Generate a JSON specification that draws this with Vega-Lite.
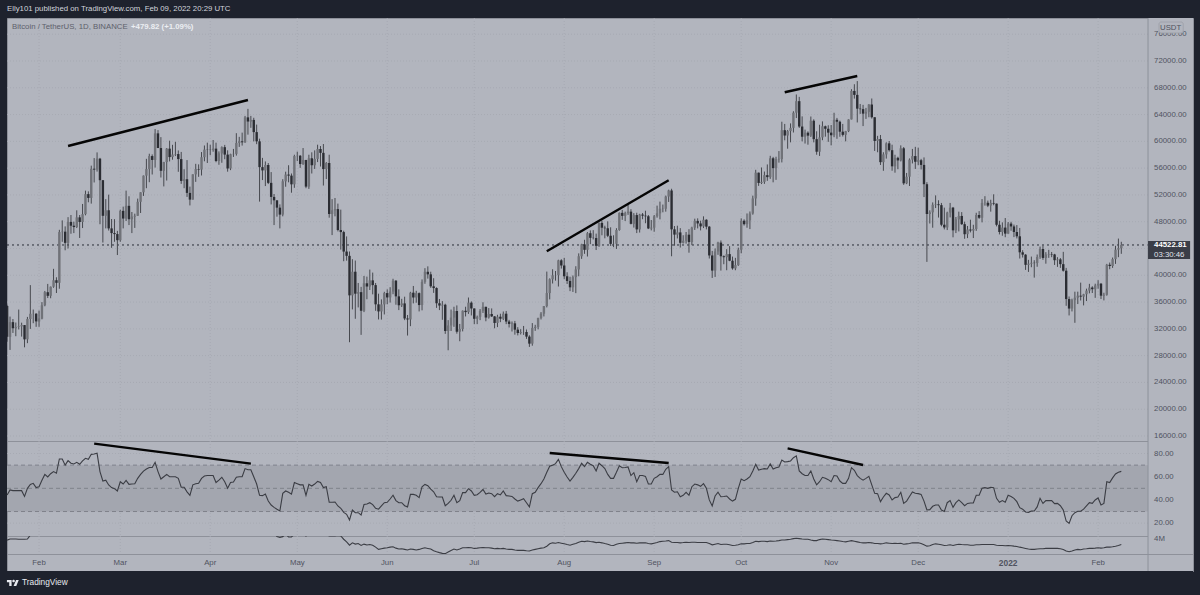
{
"$schema":"https://vega.github.io/schema/vega-lite/v6.json",
"background":"#1e222d",
"padding":{"left":4,"right":7,"top":0,"bottom":0},
"spacing":0,
"bounds":"flush",
"config":{"font":"Liberation Sans","view":{"fill":"#b2b5be","stroke":"#8e919a","strokeWidth":1}},
"datasets":{
"months":[{"d":"2021-02-01","t":"Feb"},{"d":"2021-03-01","t":"Mar"},{"d":"2021-04-01","t":"Apr"},{"d":"2021-05-01","t":"May"},{"d":"2021-06-01","t":"Jun"},{"d":"2021-07-01","t":"Jul"},{"d":"2021-08-01","t":"Aug"},{"d":"2021-09-01","t":"Sep"},{"d":"2021-10-01","t":"Oct"},{"d":"2021-11-01","t":"Nov"},{"d":"2021-12-01","t":"Dec"},{"d":"2022-01-01","t":"2022"},{"d":"2022-02-01","t":"Feb"}],
"col":[{"d":"2022-02-18T05:00:00Z","d2":"2022-03-05T17:00:00Z"}],
"prices":[{"d":"2022-02-20T07:00:00Z","p":16000,"t":"16000.00"},{"d":"2022-02-20T07:00:00Z","p":20000,"t":"20000.00"},{"d":"2022-02-20T07:00:00Z","p":24000,"t":"24000.00"},{"d":"2022-02-20T07:00:00Z","p":28000,"t":"28000.00"},{"d":"2022-02-20T07:00:00Z","p":32000,"t":"32000.00"},{"d":"2022-02-20T07:00:00Z","p":36000,"t":"36000.00"},{"d":"2022-02-20T07:00:00Z","p":40000,"t":"40000.00"},{"d":"2022-02-20T07:00:00Z","p":48000,"t":"48000.00"},{"d":"2022-02-20T07:00:00Z","p":52000,"t":"52000.00"},{"d":"2022-02-20T07:00:00Z","p":56000,"t":"56000.00"},{"d":"2022-02-20T07:00:00Z","p":60000,"t":"60000.00"},{"d":"2022-02-20T07:00:00Z","p":64000,"t":"64000.00"},{"d":"2022-02-20T07:00:00Z","p":68000,"t":"68000.00"},{"d":"2022-02-20T07:00:00Z","p":72000,"t":"72000.00"},{"d":"2022-02-20T07:00:00Z","p":76000,"t":"76000.00"}],
"priceGrid":[{"d":"2021-01-20T23:00:00Z","d2":"2022-02-18T05:00:00Z","p":16000},{"d":"2021-01-20T23:00:00Z","d2":"2022-02-18T05:00:00Z","p":20000},{"d":"2021-01-20T23:00:00Z","d2":"2022-02-18T05:00:00Z","p":24000},{"d":"2021-01-20T23:00:00Z","d2":"2022-02-18T05:00:00Z","p":28000},{"d":"2021-01-20T23:00:00Z","d2":"2022-02-18T05:00:00Z","p":32000},{"d":"2021-01-20T23:00:00Z","d2":"2022-02-18T05:00:00Z","p":36000},{"d":"2021-01-20T23:00:00Z","d2":"2022-02-18T05:00:00Z","p":40000},{"d":"2021-01-20T23:00:00Z","d2":"2022-02-18T05:00:00Z","p":44000},{"d":"2021-01-20T23:00:00Z","d2":"2022-02-18T05:00:00Z","p":48000},{"d":"2021-01-20T23:00:00Z","d2":"2022-02-18T05:00:00Z","p":52000},{"d":"2021-01-20T23:00:00Z","d2":"2022-02-18T05:00:00Z","p":56000},{"d":"2021-01-20T23:00:00Z","d2":"2022-02-18T05:00:00Z","p":60000},{"d":"2021-01-20T23:00:00Z","d2":"2022-02-18T05:00:00Z","p":64000},{"d":"2021-01-20T23:00:00Z","d2":"2022-02-18T05:00:00Z","p":68000},{"d":"2021-01-20T23:00:00Z","d2":"2022-02-18T05:00:00Z","p":72000},{"d":"2021-01-20T23:00:00Z","d2":"2022-02-18T05:00:00Z","p":76000}],
"rsiTicks":[{"d":"2022-02-20T07:00:00Z","p":20,"t":"20.00"},{"d":"2022-02-20T07:00:00Z","p":40,"t":"40.00"},{"d":"2022-02-20T07:00:00Z","p":60,"t":"60.00"},{"d":"2022-02-20T07:00:00Z","p":80,"t":"80.00"}],
"rsiGrid":[{"d":"2021-01-20T23:00:00Z","d2":"2022-02-18T05:00:00Z","p":20},{"d":"2021-01-20T23:00:00Z","d2":"2022-02-18T05:00:00Z","p":40},{"d":"2021-01-20T23:00:00Z","d2":"2022-02-18T05:00:00Z","p":60},{"d":"2021-01-20T23:00:00Z","d2":"2022-02-18T05:00:00Z","p":80}],
"btc":[
{"d":"2021-01-21","o":35400,"h":35600,"l":30070,"c":30800,"rsi":44.3,"obv":3.74},
{"d":"2021-01-22","o":30800,"h":33830,"l":28850,"c":33000,"rsi":48.6,"obv":3.87},
{"d":"2021-01-23","o":33000,"h":33460,"l":31390,"c":32090,"rsi":48,"obv":3.87},
{"d":"2021-01-24","o":32090,"h":32940,"l":30900,"c":32270,"rsi":48,"obv":3.87},
{"d":"2021-01-25","o":32270,"h":34880,"l":31910,"c":32370,"rsi":48,"obv":3.84},
{"d":"2021-01-26","o":32370,"h":32920,"l":30840,"c":32560,"rsi":48,"obv":3.84},
{"d":"2021-01-27","o":32560,"h":32570,"l":29240,"c":30430,"rsi":43,"obv":3.84},
{"d":"2021-01-28","o":30430,"h":33780,"l":29860,"c":33470,"rsi":50,"obv":3.87},
{"d":"2021-01-29","o":33470,"h":38530,"l":31990,"c":34250,"rsi":53.4,"obv":4.3},
{"d":"2021-01-30","o":34250,"h":34880,"l":32840,"c":34260,"rsi":54.3,"obv":4.6},
{"d":"2021-01-31","o":34260,"h":34340,"l":32300,"c":33110,"rsi":50.6,"obv":4.6},
{"d":"2021-02-01","o":33100,"h":34730,"l":32300,"c":33530,"rsi":51.4,"obv":4.6},
{"d":"2021-02-02","o":33520,"h":35990,"l":33420,"c":35510,"rsi":57,"obv":4.6},
{"d":"2021-02-03","o":35510,"h":37660,"l":35370,"c":37470,"rsi":62,"obv":4.6},
{"d":"2021-02-04","o":37470,"h":38710,"l":36600,"c":36930,"rsi":59.8,"obv":4.6},
{"d":"2021-02-05","o":36930,"h":38320,"l":36570,"c":38290,"rsi":62.6,"obv":4.6},
{"d":"2021-02-06","o":38290,"h":40960,"l":38130,"c":39260,"rsi":64.4,"obv":4.6},
{"d":"2021-02-07","o":39260,"h":39700,"l":37350,"c":38870,"rsi":63,"obv":4.6},
{"d":"2021-02-08","o":38870,"h":46790,"l":37990,"c":46450,"rsi":75.3,"obv":4.6},
{"d":"2021-02-09","o":46450,"h":48200,"l":45000,"c":46510,"rsi":75.3,"obv":4.6},
{"d":"2021-02-10","o":46510,"h":47300,"l":43730,"c":44840,"rsi":70,"obv":4.6},
{"d":"2021-02-11","o":44840,"h":48680,"l":44000,"c":47970,"rsi":73.9,"obv":4.6},
{"d":"2021-02-12","o":47970,"h":49000,"l":46200,"c":47400,"rsi":71.6,"obv":4.6},
{"d":"2021-02-13","o":47400,"h":48000,"l":46300,"c":47200,"rsi":71,"obv":4.6},
{"d":"2021-02-14","o":47200,"h":49700,"l":47050,"c":48650,"rsi":72.4,"obv":4.6},
{"d":"2021-02-15","o":48650,"h":49000,"l":45570,"c":47950,"rsi":70.7,"obv":4.6},
{"d":"2021-02-16","o":47950,"h":50650,"l":47050,"c":49130,"rsi":73.6,"obv":4.6},
{"d":"2021-02-17","o":49130,"h":52640,"l":48950,"c":52120,"rsi":75.9,"obv":4.6},
{"d":"2021-02-18","o":52120,"h":52530,"l":50900,"c":51550,"rsi":75,"obv":4.6},
{"d":"2021-02-19","o":51550,"h":56370,"l":50700,"c":55910,"rsi":79.3,"obv":4.6},
{"d":"2021-02-20","o":55910,"h":57500,"l":53860,"c":55780,"rsi":79.6,"obv":4.6},
{"d":"2021-02-21","o":55780,"h":58350,"l":55480,"c":57410,"rsi":80.2,"obv":4.6},
{"d":"2021-02-22","o":57410,"h":57530,"l":47620,"c":54200,"rsi":64.4,"obv":4.6},
{"d":"2021-02-23","o":54200,"h":54200,"l":44890,"c":48880,"rsi":56.3,"obv":4.6},
{"d":"2021-02-24","o":48880,"h":51370,"l":47000,"c":49710,"rsi":57,"obv":4.6},
{"d":"2021-02-25","o":49710,"h":52040,"l":46680,"c":47000,"rsi":52.9,"obv":4.6},
{"d":"2021-02-26","o":47000,"h":48400,"l":44100,"c":46300,"rsi":50.6,"obv":4.6},
{"d":"2021-02-27","o":46300,"h":48380,"l":45000,"c":46150,"rsi":49.7,"obv":4.6},
{"d":"2021-02-28","o":46150,"h":46630,"l":43020,"c":45240,"rsi":47.7,"obv":4.6},
{"d":"2021-03-01","o":45240,"h":49800,"l":45000,"c":49620,"rsi":55.7,"obv":4.6},
{"d":"2021-03-02","o":49620,"h":50250,"l":47000,"c":48470,"rsi":53.7,"obv":4.6},
{"d":"2021-03-03","o":48470,"h":52640,"l":48100,"c":50370,"rsi":56.9,"obv":4.6},
{"d":"2021-03-04","o":50370,"h":51800,"l":47500,"c":48370,"rsi":53.4,"obv":4.6},
{"d":"2021-03-05","o":48370,"h":49450,"l":46300,"c":48760,"rsi":53.7,"obv":4.6},
{"d":"2021-03-06","o":48760,"h":49200,"l":47070,"c":48880,"rsi":54,"obv":4.6},
{"d":"2021-03-07","o":48880,"h":51450,"l":48880,"c":50970,"rsi":58.6,"obv":4.6},
{"d":"2021-03-08","o":50970,"h":52400,"l":49300,"c":52390,"rsi":62,"obv":4.6},
{"d":"2021-03-09","o":52390,"h":54900,"l":51850,"c":54880,"rsi":64.9,"obv":4.6},
{"d":"2021-03-10","o":54880,"h":57390,"l":53000,"c":55860,"rsi":66.7,"obv":4.6},
{"d":"2021-03-11","o":55860,"h":58150,"l":53900,"c":57800,"rsi":68,"obv":4.6},
{"d":"2021-03-12","o":57800,"h":58050,"l":55050,"c":57220,"rsi":68,"obv":4.6},
{"d":"2021-03-13","o":57220,"h":61840,"l":56080,"c":61190,"rsi":72.4,"obv":4.6},
{"d":"2021-03-14","o":61190,"h":61680,"l":59000,"c":59000,"rsi":64.4,"obv":4.6},
{"d":"2021-03-15","o":59000,"h":60630,"l":54600,"c":55600,"rsi":58,"obv":4.6},
{"d":"2021-03-16","o":55600,"h":56940,"l":53270,"c":56900,"rsi":60,"obv":4.6},
{"d":"2021-03-17","o":56900,"h":59000,"l":54150,"c":58910,"rsi":62,"obv":4.6},
{"d":"2021-03-18","o":58910,"h":60100,"l":57000,"c":57650,"rsi":60,"obv":4.6},
{"d":"2021-03-19","o":57650,"h":59480,"l":57260,"c":58030,"rsi":60,"obv":4.6},
{"d":"2021-03-20","o":58030,"h":59930,"l":57800,"c":58100,"rsi":60,"obv":4.6},
{"d":"2021-03-21","o":58100,"h":58640,"l":55450,"c":57350,"rsi":58.6,"obv":4.6},
{"d":"2021-03-22","o":57350,"h":58420,"l":53650,"c":54090,"rsi":50.9,"obv":4.6},
{"d":"2021-03-23","o":54090,"h":55840,"l":53000,"c":54340,"rsi":50.9,"obv":4.6},
{"d":"2021-03-24","o":54340,"h":57200,"l":51700,"c":52300,"rsi":47,"obv":4.6},
{"d":"2021-03-25","o":52300,"h":53240,"l":50430,"c":51300,"rsi":44,"obv":4.6},
{"d":"2021-03-26","o":51300,"h":55080,"l":51300,"c":55070,"rsi":53,"obv":4.6},
{"d":"2021-03-27","o":55070,"h":56640,"l":53950,"c":55860,"rsi":54,"obv":4.6},
{"d":"2021-03-28","o":55860,"h":56560,"l":54700,"c":55780,"rsi":54.3,"obv":4.6},
{"d":"2021-03-29","o":55780,"h":58400,"l":54900,"c":57630,"rsi":58.6,"obv":4.6},
{"d":"2021-03-30","o":57630,"h":59380,"l":57020,"c":58770,"rsi":60.6,"obv":4.6},
{"d":"2021-03-31","o":58770,"h":59800,"l":56770,"c":58740,"rsi":61,"obv":4.6},
{"d":"2021-04-01","o":58740,"h":59490,"l":57930,"c":58720,"rsi":61,"obv":4.6},
{"d":"2021-04-02","o":58720,"h":60200,"l":58450,"c":58910,"rsi":61,"obv":4.6},
{"d":"2021-04-03","o":58910,"h":59800,"l":56880,"c":57060,"rsi":55,"obv":4.6},
{"d":"2021-04-04","o":57060,"h":58500,"l":56500,"c":58200,"rsi":57,"obv":4.6},
{"d":"2021-04-05","o":58200,"h":59250,"l":56800,"c":59130,"rsi":59.5,"obv":4.6},
{"d":"2021-04-06","o":59130,"h":59470,"l":57330,"c":58020,"rsi":55.7,"obv":4.6},
{"d":"2021-04-07","o":58020,"h":58660,"l":55470,"c":55950,"rsi":50,"obv":4.6},
{"d":"2021-04-08","o":55950,"h":58150,"l":55700,"c":58080,"rsi":55,"obv":4.6},
{"d":"2021-04-09","o":58080,"h":58870,"l":57670,"c":58130,"rsi":55.5,"obv":4.6},
{"d":"2021-04-10","o":58130,"h":61220,"l":57870,"c":59770,"rsi":59.5,"obv":4.6},
{"d":"2021-04-11","o":59770,"h":60670,"l":59170,"c":60000,"rsi":60,"obv":4.6},
{"d":"2021-04-12","o":60000,"h":61300,"l":59370,"c":59860,"rsi":60,"obv":4.6},
{"d":"2021-04-13","o":59860,"h":63800,"l":59770,"c":63580,"rsi":67,"obv":4.6},
{"d":"2021-04-14","o":63580,"h":64850,"l":61000,"c":62960,"rsi":66,"obv":4.6},
{"d":"2021-04-15","o":62960,"h":63800,"l":62020,"c":63200,"rsi":66,"obv":4.6},
{"d":"2021-04-16","o":63200,"h":63520,"l":60000,"c":61380,"rsi":60,"obv":4.6},
{"d":"2021-04-17","o":61380,"h":62500,"l":59580,"c":60000,"rsi":53.7,"obv":4.6},
{"d":"2021-04-18","o":60000,"h":60400,"l":51000,"c":56150,"rsi":44,"obv":4.6},
{"d":"2021-04-19","o":56150,"h":57530,"l":54220,"c":55660,"rsi":43.7,"obv":4.6},
{"d":"2021-04-20","o":55660,"h":57000,"l":53320,"c":56470,"rsi":45,"obv":4.6},
{"d":"2021-04-21","o":56470,"h":56760,"l":53620,"c":53800,"rsi":39,"obv":4.6},
{"d":"2021-04-22","o":53800,"h":55410,"l":50580,"c":51700,"rsi":35.6,"obv":4.6},
{"d":"2021-04-23","o":51700,"h":52130,"l":47500,"c":51190,"rsi":33.6,"obv":4.6},
{"d":"2021-04-24","o":51190,"h":51200,"l":48750,"c":50100,"rsi":32,"obv":4.13},
{"d":"2021-04-25","o":50100,"h":50590,"l":47000,"c":49060,"rsi":30.5,"obv":4.05},
{"d":"2021-04-26","o":49060,"h":54350,"l":48800,"c":54030,"rsi":45.7,"obv":4.13},
{"d":"2021-04-27","o":54030,"h":55470,"l":53220,"c":55040,"rsi":47.7,"obv":4.4},
{"d":"2021-04-28","o":55040,"h":56430,"l":53880,"c":54880,"rsi":46.6,"obv":4.09},
{"d":"2021-04-29","o":54880,"h":55200,"l":52330,"c":53580,"rsi":45,"obv":4.09},
{"d":"2021-04-30","o":53580,"h":58000,"l":53060,"c":57800,"rsi":55,"obv":4.4},
{"d":"2021-05-01","o":57800,"h":58460,"l":57050,"c":57850,"rsi":54,"obv":4.4},
{"d":"2021-05-02","o":57850,"h":57950,"l":56040,"c":56610,"rsi":53,"obv":4.4},
{"d":"2021-05-03","o":56610,"h":59000,"l":56480,"c":57210,"rsi":53,"obv":4.4},
{"d":"2021-05-04","o":57210,"h":57240,"l":53000,"c":53240,"rsi":44,"obv":4.2},
{"d":"2021-05-05","o":53240,"h":58000,"l":52900,"c":57470,"rsi":53.4,"obv":4.4},
{"d":"2021-05-06","o":57470,"h":58360,"l":55200,"c":56430,"rsi":52,"obv":4.4},
{"d":"2021-05-07","o":56430,"h":58650,"l":55880,"c":57380,"rsi":53.7,"obv":4.4},
{"d":"2021-05-08","o":57380,"h":59500,"l":56900,"c":58860,"rsi":56,"obv":4.4},
{"d":"2021-05-09","o":58860,"h":59300,"l":56240,"c":58280,"rsi":55,"obv":4.4},
{"d":"2021-05-10","o":58280,"h":59600,"l":53400,"c":55860,"rsi":50.6,"obv":4.4},
{"d":"2021-05-11","o":55860,"h":56900,"l":54370,"c":56770,"rsi":51.4,"obv":4.4},
{"d":"2021-05-12","o":56770,"h":58000,"l":48600,"c":49150,"rsi":38,"obv":4.2},
{"d":"2021-05-13","o":49150,"h":51370,"l":46000,"c":49700,"rsi":38,"obv":4.2},
{"d":"2021-05-14","o":49700,"h":51540,"l":48800,"c":49880,"rsi":38.2,"obv":4.2},
{"d":"2021-05-15","o":49880,"h":50700,"l":46550,"c":46760,"rsi":34.8,"obv":4.25},
{"d":"2021-05-16","o":46760,"h":49800,"l":43830,"c":46450,"rsi":32.8,"obv":4.2},
{"d":"2021-05-17","o":46450,"h":46650,"l":42100,"c":43540,"rsi":29.3,"obv":3.84},
{"d":"2021-05-18","o":43540,"h":45800,"l":42180,"c":42900,"rsi":27.6,"obv":3.55},
{"d":"2021-05-19","o":42900,"h":43550,"l":30000,"c":37000,"rsi":22.7,"obv":3.18},
{"d":"2021-05-20","o":37000,"h":42400,"l":34900,"c":40530,"rsi":31.3,"obv":3.44},
{"d":"2021-05-21","o":40530,"h":42200,"l":33500,"c":37250,"rsi":29,"obv":3.3},
{"d":"2021-05-22","o":37250,"h":38850,"l":35200,"c":37480,"rsi":29,"obv":3.36},
{"d":"2021-05-23","o":37480,"h":38270,"l":31100,"c":34700,"rsi":27,"obv":3.15},
{"d":"2021-05-24","o":34700,"h":39900,"l":34500,"c":38800,"rsi":36,"obv":3.3},
{"d":"2021-05-25","o":38800,"h":39800,"l":36420,"c":38320,"rsi":36.5,"obv":3.2},
{"d":"2021-05-26","o":38320,"h":40850,"l":37800,"c":39240,"rsi":37.6,"obv":3.25},
{"d":"2021-05-27","o":39240,"h":40400,"l":37150,"c":38530,"rsi":36,"obv":3.18},
{"d":"2021-05-28","o":38530,"h":38850,"l":34700,"c":35660,"rsi":32.8,"obv":2.96},
{"d":"2021-05-29","o":35660,"h":37250,"l":33400,"c":34600,"rsi":32,"obv":2.71},
{"d":"2021-05-30","o":34600,"h":36400,"l":33380,"c":35650,"rsi":34.8,"obv":2.78},
{"d":"2021-05-31","o":35650,"h":37530,"l":34150,"c":37340,"rsi":37.6,"obv":2.85},
{"d":"2021-06-01","o":37340,"h":37900,"l":35670,"c":36690,"rsi":38,"obv":2.9},
{"d":"2021-06-02","o":36690,"h":38220,"l":35920,"c":37570,"rsi":40.8,"obv":2.96},
{"d":"2021-06-03","o":37570,"h":39480,"l":37170,"c":39190,"rsi":44,"obv":3},
{"d":"2021-06-04","o":39190,"h":39290,"l":35600,"c":36850,"rsi":39.4,"obv":2.85},
{"d":"2021-06-05","o":36850,"h":37900,"l":34800,"c":35520,"rsi":37.6,"obv":2.75},
{"d":"2021-06-06","o":35520,"h":36480,"l":35260,"c":35800,"rsi":37.6,"obv":2.78},
{"d":"2021-06-07","o":35800,"h":36800,"l":33300,"c":33550,"rsi":35,"obv":2.71},
{"d":"2021-06-08","o":33550,"h":34070,"l":31000,"c":33400,"rsi":34,"obv":2.64},
{"d":"2021-06-09","o":33400,"h":37530,"l":32400,"c":37400,"rsi":44.8,"obv":2.75},
{"d":"2021-06-10","o":37400,"h":38400,"l":35800,"c":36680,"rsi":44.8,"obv":2.71},
{"d":"2021-06-11","o":36680,"h":37680,"l":35900,"c":37330,"rsi":44,"obv":2.64},
{"d":"2021-06-12","o":37330,"h":37440,"l":34600,"c":35550,"rsi":42,"obv":2.71},
{"d":"2021-06-13","o":35550,"h":39380,"l":34760,"c":39020,"rsi":51.4,"obv":2.82},
{"d":"2021-06-14","o":39020,"h":41060,"l":38730,"c":40520,"rsi":53.4,"obv":2.89},
{"d":"2021-06-15","o":40520,"h":41330,"l":39500,"c":40140,"rsi":52.3,"obv":2.82},
{"d":"2021-06-16","o":40140,"h":40530,"l":38120,"c":38350,"rsi":49.4,"obv":2.75},
{"d":"2021-06-17","o":38350,"h":39560,"l":37370,"c":38090,"rsi":47,"obv":2.56},
{"d":"2021-06-18","o":38090,"h":38200,"l":35130,"c":35820,"rsi":42.8,"obv":2.45},
{"d":"2021-06-19","o":35820,"h":36460,"l":34800,"c":35480,"rsi":42.5,"obv":2.35},
{"d":"2021-06-20","o":35480,"h":36140,"l":33350,"c":35600,"rsi":42.5,"obv":2.27},
{"d":"2021-06-21","o":35600,"h":35750,"l":31250,"c":31680,"rsi":35,"obv":2.24},
{"d":"2021-06-22","o":31680,"h":33300,"l":28800,"c":32500,"rsi":37,"obv":2.42},
{"d":"2021-06-23","o":32500,"h":34880,"l":31680,"c":33680,"rsi":39.7,"obv":2.6},
{"d":"2021-06-24","o":33680,"h":35300,"l":32300,"c":34660,"rsi":44,"obv":2.75},
{"d":"2021-06-25","o":34660,"h":35500,"l":31280,"c":31570,"rsi":37.6,"obv":2.64},
{"d":"2021-06-26","o":31570,"h":32730,"l":30150,"c":31980,"rsi":39.4,"obv":2.75},
{"d":"2021-06-27","o":31980,"h":34750,"l":31620,"c":34700,"rsi":46.3,"obv":2.89},
{"d":"2021-06-28","o":34700,"h":35300,"l":33850,"c":34500,"rsi":46.3,"obv":2.89},
{"d":"2021-06-29","o":34500,"h":36680,"l":34230,"c":35910,"rsi":49.7,"obv":2.93},
{"d":"2021-06-30","o":35910,"h":36100,"l":34000,"c":35040,"rsi":47.7,"obv":2.89},
{"d":"2021-07-01","o":35040,"h":35060,"l":32710,"c":33500,"rsi":44,"obv":2.82},
{"d":"2021-07-02","o":33500,"h":33980,"l":32700,"c":33800,"rsi":44.5,"obv":2.85},
{"d":"2021-07-03","o":33800,"h":34950,"l":33300,"c":34700,"rsi":46.5,"obv":2.89},
{"d":"2021-07-04","o":34700,"h":35970,"l":34370,"c":35290,"rsi":49,"obv":2.93},
{"d":"2021-07-05","o":35290,"h":35300,"l":33130,"c":33690,"rsi":45,"obv":2.89},
{"d":"2021-07-06","o":33690,"h":35100,"l":33530,"c":34220,"rsi":46,"obv":2.89},
{"d":"2021-07-07","o":34220,"h":35050,"l":33770,"c":33860,"rsi":45.4,"obv":2.85},
{"d":"2021-07-08","o":33860,"h":33900,"l":32080,"c":32880,"rsi":42.8,"obv":2.78},
{"d":"2021-07-09","o":32880,"h":34100,"l":32260,"c":33810,"rsi":45.4,"obv":2.82},
{"d":"2021-07-10","o":33810,"h":34260,"l":33000,"c":33510,"rsi":44.3,"obv":2.78},
{"d":"2021-07-11","o":33510,"h":34590,"l":33320,"c":34260,"rsi":47.7,"obv":2.82},
{"d":"2021-07-12","o":34260,"h":34670,"l":32700,"c":33090,"rsi":43.7,"obv":2.75},
{"d":"2021-07-13","o":33090,"h":33340,"l":32200,"c":32730,"rsi":43.4,"obv":2.71},
{"d":"2021-07-14","o":32730,"h":33100,"l":31600,"c":32820,"rsi":43,"obv":2.71},
{"d":"2021-07-15","o":32820,"h":33180,"l":31130,"c":31880,"rsi":40.8,"obv":2.64},
{"d":"2021-07-16","o":31880,"h":32250,"l":31020,"c":31380,"rsi":39,"obv":2.6},
{"d":"2021-07-17","o":31380,"h":31950,"l":31160,"c":31520,"rsi":40,"obv":2.6},
{"d":"2021-07-18","o":31520,"h":32430,"l":31100,"c":31530,"rsi":41,"obv":2.6},
{"d":"2021-07-19","o":31530,"h":31900,"l":30500,"c":30840,"rsi":37.6,"obv":2.56},
{"d":"2021-07-20","o":30840,"h":31040,"l":29300,"c":29790,"rsi":34,"obv":2.53},
{"d":"2021-07-21","o":29790,"h":32860,"l":29480,"c":32140,"rsi":45.4,"obv":2.64},
{"d":"2021-07-22","o":32140,"h":32600,"l":31700,"c":32290,"rsi":46.6,"obv":2.71},
{"d":"2021-07-23","o":32290,"h":33650,"l":31930,"c":33630,"rsi":50.6,"obv":2.78},
{"d":"2021-07-24","o":33630,"h":34500,"l":33400,"c":34260,"rsi":54,"obv":2.85},
{"d":"2021-07-25","o":34260,"h":35400,"l":33850,"c":35400,"rsi":58,"obv":2.89},
{"d":"2021-07-26","o":35400,"h":40550,"l":35200,"c":37340,"rsi":63.8,"obv":3.07},
{"d":"2021-07-27","o":37340,"h":39540,"l":36400,"c":39400,"rsi":69,"obv":3.33},
{"d":"2021-07-28","o":39400,"h":40900,"l":38770,"c":40000,"rsi":70,"obv":3.44},
{"d":"2021-07-29","o":40000,"h":40640,"l":39200,"c":40020,"rsi":71.3,"obv":3.4},
{"d":"2021-07-30","o":40020,"h":42320,"l":38320,"c":42230,"rsi":75,"obv":3.47},
{"d":"2021-07-31","o":42230,"h":42400,"l":41000,"c":41460,"rsi":68.7,"obv":3.4},
{"d":"2021-08-01","o":41460,"h":42600,"l":39420,"c":39850,"rsi":63.8,"obv":3.33},
{"d":"2021-08-02","o":39850,"h":40450,"l":38700,"c":39150,"rsi":59.8,"obv":3.25},
{"d":"2021-08-03","o":39150,"h":39780,"l":37630,"c":38200,"rsi":56.3,"obv":3.18},
{"d":"2021-08-04","o":38200,"h":39970,"l":37510,"c":39720,"rsi":59.5,"obv":3.29},
{"d":"2021-08-05","o":39720,"h":41350,"l":37330,"c":40870,"rsi":63,"obv":3.36},
{"d":"2021-08-06","o":40870,"h":43270,"l":39850,"c":42840,"rsi":67,"obv":3.51},
{"d":"2021-08-07","o":42840,"h":44700,"l":42450,"c":44610,"rsi":71.6,"obv":3.62},
{"d":"2021-08-08","o":44610,"h":45300,"l":43200,"c":43800,"rsi":68.7,"obv":3.58},
{"d":"2021-08-09","o":43800,"h":46450,"l":42800,"c":46280,"rsi":72.4,"obv":3.65},
{"d":"2021-08-10","o":46280,"h":46700,"l":44650,"c":45590,"rsi":70.7,"obv":3.58},
{"d":"2021-08-11","o":45590,"h":46740,"l":45350,"c":45560,"rsi":69.5,"obv":3.55},
{"d":"2021-08-12","o":45560,"h":46220,"l":43770,"c":44400,"rsi":65,"obv":3.47},
{"d":"2021-08-13","o":44400,"h":47880,"l":44240,"c":47820,"rsi":71.6,"obv":3.51},
{"d":"2021-08-14","o":47820,"h":48140,"l":45970,"c":47100,"rsi":69.5,"obv":3.44},
{"d":"2021-08-15","o":47100,"h":47400,"l":45520,"c":47020,"rsi":67,"obv":3.36},
{"d":"2021-08-16","o":47020,"h":48050,"l":45700,"c":45900,"rsi":62,"obv":3.29},
{"d":"2021-08-17","o":45900,"h":47160,"l":44380,"c":44690,"rsi":58.6,"obv":3.18},
{"d":"2021-08-18","o":44690,"h":45970,"l":44200,"c":44700,"rsi":58.6,"obv":3.15},
{"d":"2021-08-19","o":44700,"h":47030,"l":43930,"c":46760,"rsi":63.8,"obv":3.29},
{"d":"2021-08-20","o":46760,"h":49380,"l":46650,"c":49320,"rsi":69.5,"obv":3.36},
{"d":"2021-08-21","o":49320,"h":49760,"l":48280,"c":48870,"rsi":67.8,"obv":3.4},
{"d":"2021-08-22","o":48870,"h":49500,"l":48100,"c":49290,"rsi":68,"obv":3.44},
{"d":"2021-08-23","o":49290,"h":50500,"l":49020,"c":49500,"rsi":68.4,"obv":3.47},
{"d":"2021-08-24","o":49500,"h":49870,"l":47600,"c":47680,"rsi":61,"obv":3.44},
{"d":"2021-08-25","o":47680,"h":49280,"l":47120,"c":48990,"rsi":63.5,"obv":3.44},
{"d":"2021-08-26","o":48990,"h":49340,"l":46300,"c":46850,"rsi":55.7,"obv":3.4},
{"d":"2021-08-27","o":46850,"h":49180,"l":46380,"c":49070,"rsi":61,"obv":3.44},
{"d":"2021-08-28","o":49070,"h":49300,"l":48370,"c":48900,"rsi":61,"obv":3.44},
{"d":"2021-08-29","o":48900,"h":49640,"l":47770,"c":48810,"rsi":60.3,"obv":3.44},
{"d":"2021-08-30","o":48810,"h":49000,"l":46900,"c":46990,"rsi":53.7,"obv":3.36},
{"d":"2021-08-31","o":46990,"h":48250,"l":46700,"c":47110,"rsi":53.7,"obv":3.33},
{"d":"2021-09-01","o":47110,"h":49000,"l":46510,"c":48810,"rsi":58.6,"obv":3.4},
{"d":"2021-09-02","o":48810,"h":50400,"l":48600,"c":49250,"rsi":60,"obv":3.47},
{"d":"2021-09-03","o":49250,"h":51000,"l":48350,"c":49940,"rsi":62,"obv":3.58},
{"d":"2021-09-04","o":49940,"h":50560,"l":49400,"c":49930,"rsi":62,"obv":3.62},
{"d":"2021-09-05","o":49930,"h":51900,"l":49500,"c":51760,"rsi":66.4,"obv":3.65},
{"d":"2021-09-06","o":51760,"h":52780,"l":50950,"c":52660,"rsi":68.7,"obv":3.69},
{"d":"2021-09-07","o":52660,"h":52920,"l":42840,"c":46860,"rsi":48.6,"obv":3.51},
{"d":"2021-09-08","o":46860,"h":47350,"l":44410,"c":46070,"rsi":46.6,"obv":3.47},
{"d":"2021-09-09","o":46070,"h":47400,"l":45500,"c":46400,"rsi":47,"obv":3.47},
{"d":"2021-09-10","o":46400,"h":47040,"l":44140,"c":44850,"rsi":42.8,"obv":3.44},
{"d":"2021-09-11","o":44850,"h":45980,"l":44750,"c":45150,"rsi":44,"obv":3.47},
{"d":"2021-09-12","o":45150,"h":46460,"l":44730,"c":46060,"rsi":46.6,"obv":3.51},
{"d":"2021-09-13","o":46060,"h":46880,"l":43370,"c":44960,"rsi":44,"obv":3.47},
{"d":"2021-09-14","o":44960,"h":47250,"l":44500,"c":47110,"rsi":51.4,"obv":3.51},
{"d":"2021-09-15","o":47110,"h":48450,"l":46770,"c":48120,"rsi":53.7,"obv":3.51},
{"d":"2021-09-16","o":48120,"h":48500,"l":47000,"c":47740,"rsi":53,"obv":3.47},
{"d":"2021-09-17","o":47740,"h":48150,"l":46700,"c":47300,"rsi":51.7,"obv":3.47},
{"d":"2021-09-18","o":47300,"h":48800,"l":47050,"c":48290,"rsi":54,"obv":3.47},
{"d":"2021-09-19","o":48290,"h":48370,"l":46850,"c":47260,"rsi":50,"obv":3.47},
{"d":"2021-09-20","o":47260,"h":47360,"l":42500,"c":42960,"rsi":40,"obv":3.36},
{"d":"2021-09-21","o":42960,"h":43640,"l":39600,"c":40700,"rsi":34.8,"obv":3.22},
{"d":"2021-09-22","o":40700,"h":44000,"l":39750,"c":43560,"rsi":43.4,"obv":3.29},
{"d":"2021-09-23","o":43560,"h":45000,"l":43050,"c":44880,"rsi":46.6,"obv":3.36},
{"d":"2021-09-24","o":44880,"h":45200,"l":40700,"c":42840,"rsi":42.8,"obv":3.25},
{"d":"2021-09-25","o":42840,"h":42970,"l":41650,"c":42700,"rsi":43,"obv":3.29},
{"d":"2021-09-26","o":42700,"h":43900,"l":40750,"c":43160,"rsi":43.4,"obv":3.29},
{"d":"2021-09-27","o":43160,"h":44350,"l":42100,"c":42170,"rsi":40.8,"obv":3.22},
{"d":"2021-09-28","o":42170,"h":42790,"l":40830,"c":41030,"rsi":39,"obv":3.15},
{"d":"2021-09-29","o":41030,"h":42600,"l":40750,"c":41520,"rsi":40.5,"obv":3.18},
{"d":"2021-09-30","o":41520,"h":44130,"l":41400,"c":43820,"rsi":50,"obv":3.22},
{"d":"2021-10-01","o":43820,"h":48500,"l":43280,"c":48140,"rsi":58,"obv":3.33},
{"d":"2021-10-02","o":48140,"h":48350,"l":47430,"c":47630,"rsi":56.6,"obv":3.33},
{"d":"2021-10-03","o":47630,"h":49230,"l":47100,"c":48200,"rsi":58,"obv":3.36},
{"d":"2021-10-04","o":48200,"h":49530,"l":46900,"c":49220,"rsi":60,"obv":3.36},
{"d":"2021-10-05","o":49220,"h":51890,"l":49050,"c":51470,"rsi":65,"obv":3.47},
{"d":"2021-10-06","o":51470,"h":55750,"l":50380,"c":55320,"rsi":70.7,"obv":3.62},
{"d":"2021-10-07","o":55320,"h":55340,"l":53350,"c":53790,"rsi":65.8,"obv":3.58},
{"d":"2021-10-08","o":53790,"h":56100,"l":53620,"c":53950,"rsi":66.4,"obv":3.62},
{"d":"2021-10-09","o":53950,"h":55490,"l":53650,"c":54950,"rsi":67,"obv":3.62},
{"d":"2021-10-10","o":54950,"h":56550,"l":54100,"c":54660,"rsi":66.7,"obv":3.58},
{"d":"2021-10-11","o":54660,"h":57840,"l":54400,"c":57470,"rsi":71,"obv":3.65},
{"d":"2021-10-12","o":57470,"h":57680,"l":53880,"c":56000,"rsi":66.7,"obv":3.62},
{"d":"2021-10-13","o":56000,"h":57700,"l":54250,"c":57370,"rsi":67.8,"obv":3.65},
{"d":"2021-10-14","o":57370,"h":58550,"l":56820,"c":57350,"rsi":68.4,"obv":3.69},
{"d":"2021-10-15","o":57350,"h":62930,"l":56850,"c":61670,"rsi":74.4,"obv":3.76},
{"d":"2021-10-16","o":61670,"h":62600,"l":60150,"c":60870,"rsi":72.7,"obv":3.76},
{"d":"2021-10-17","o":60870,"h":61700,"l":58900,"c":61530,"rsi":73,"obv":3.8},
{"d":"2021-10-18","o":61530,"h":62680,"l":59850,"c":62010,"rsi":73.6,"obv":3.84},
{"d":"2021-10-19","o":62010,"h":64490,"l":61320,"c":64280,"rsi":76.4,"obv":3.91},
{"d":"2021-10-20","o":64280,"h":67000,"l":63480,"c":66000,"rsi":78,"obv":3.95},
{"d":"2021-10-21","o":66000,"h":66640,"l":62000,"c":62210,"rsi":65,"obv":3.91},
{"d":"2021-10-22","o":62210,"h":63730,"l":60000,"c":60690,"rsi":62.6,"obv":3.87},
{"d":"2021-10-23","o":60690,"h":61750,"l":59670,"c":61290,"rsi":61,"obv":3.84},
{"d":"2021-10-24","o":61290,"h":61490,"l":59500,"c":60850,"rsi":61,"obv":3.84},
{"d":"2021-10-25","o":60850,"h":63710,"l":60650,"c":63080,"rsi":65,"obv":3.76},
{"d":"2021-10-26","o":63080,"h":63290,"l":59850,"c":60330,"rsi":58,"obv":3.69},
{"d":"2021-10-27","o":60330,"h":61500,"l":58000,"c":58450,"rsi":53,"obv":3.69},
{"d":"2021-10-28","o":58450,"h":62480,"l":57820,"c":60590,"rsi":55.7,"obv":3.8},
{"d":"2021-10-29","o":60590,"h":62980,"l":60170,"c":62250,"rsi":59.5,"obv":3.87},
{"d":"2021-10-30","o":62250,"h":62350,"l":60700,"c":61880,"rsi":58.6,"obv":3.84},
{"d":"2021-10-31","o":61880,"h":62400,"l":59930,"c":61300,"rsi":57.5,"obv":3.8},
{"d":"2021-11-01","o":61300,"h":62440,"l":59400,"c":60910,"rsi":55.7,"obv":3.76},
{"d":"2021-11-02","o":60910,"h":64270,"l":60620,"c":63220,"rsi":61,"obv":3.73},
{"d":"2021-11-03","o":63220,"h":63500,"l":60380,"c":62930,"rsi":60.6,"obv":3.69},
{"d":"2021-11-04","o":62930,"h":63090,"l":60680,"c":61440,"rsi":56.3,"obv":3.65},
{"d":"2021-11-05","o":61440,"h":62600,"l":60720,"c":60970,"rsi":54.3,"obv":3.58},
{"d":"2021-11-06","o":60970,"h":61560,"l":60000,"c":61520,"rsi":54.3,"obv":3.55},
{"d":"2021-11-07","o":61520,"h":63290,"l":61380,"c":63270,"rsi":58.6,"obv":3.62},
{"d":"2021-11-08","o":63270,"h":67790,"l":63270,"c":67530,"rsi":67.8,"obv":3.69},
{"d":"2021-11-09","o":67530,"h":68530,"l":66380,"c":66940,"rsi":65.5,"obv":3.62},
{"d":"2021-11-10","o":66940,"h":69000,"l":62820,"c":64880,"rsi":61,"obv":3.55},
{"d":"2021-11-11","o":64880,"h":65580,"l":64100,"c":64810,"rsi":58.6,"obv":3.47},
{"d":"2021-11-12","o":64810,"h":65450,"l":62280,"c":64140,"rsi":57,"obv":3.44},
{"d":"2021-11-13","o":64140,"h":65000,"l":63350,"c":64400,"rsi":58.6,"obv":3.44},
{"d":"2021-11-14","o":64400,"h":65550,"l":63600,"c":65500,"rsi":60.3,"obv":3.47},
{"d":"2021-11-15","o":65500,"h":66400,"l":63400,"c":63600,"rsi":53,"obv":3.44},
{"d":"2021-11-16","o":63600,"h":63600,"l":58570,"c":60060,"rsi":45.7,"obv":3.36},
{"d":"2021-11-17","o":60060,"h":60820,"l":58370,"c":60340,"rsi":45.4,"obv":3.36},
{"d":"2021-11-18","o":60340,"h":60950,"l":56470,"c":56890,"rsi":38.5,"obv":3.33},
{"d":"2021-11-19","o":56890,"h":58370,"l":55600,"c":58050,"rsi":42.5,"obv":3.36},
{"d":"2021-11-20","o":58050,"h":59850,"l":57420,"c":59700,"rsi":45.7,"obv":3.44},
{"d":"2021-11-21","o":59700,"h":60050,"l":58470,"c":58680,"rsi":44.3,"obv":3.4},
{"d":"2021-11-22","o":58680,"h":59500,"l":55610,"c":56270,"rsi":40,"obv":3.36},
{"d":"2021-11-23","o":56270,"h":58000,"l":55320,"c":57540,"rsi":42,"obv":3.4},
{"d":"2021-11-24","o":57540,"h":57700,"l":55840,"c":57150,"rsi":42.5,"obv":3.36},
{"d":"2021-11-25","o":57150,"h":59400,"l":57000,"c":58960,"rsi":46.6,"obv":3.4},
{"d":"2021-11-26","o":58960,"h":59150,"l":53500,"c":53730,"rsi":37,"obv":3.29},
{"d":"2021-11-27","o":53730,"h":55280,"l":53610,"c":54720,"rsi":39,"obv":3.33},
{"d":"2021-11-28","o":54720,"h":57450,"l":53330,"c":57270,"rsi":43,"obv":3.36},
{"d":"2021-11-29","o":57270,"h":58870,"l":56700,"c":57800,"rsi":46.8,"obv":3.44},
{"d":"2021-11-30","o":57800,"h":59180,"l":55880,"c":56950,"rsi":45.7,"obv":3.44},
{"d":"2021-12-01","o":56950,"h":59050,"l":56450,"c":57180,"rsi":45.4,"obv":3.44},
{"d":"2021-12-02","o":57180,"h":57380,"l":55800,"c":56480,"rsi":44.8,"obv":3.36},
{"d":"2021-12-03","o":56480,"h":57600,"l":51680,"c":53600,"rsi":39,"obv":3.22},
{"d":"2021-12-04","o":53600,"h":53900,"l":42000,"c":49150,"rsi":31.3,"obv":3.07},
{"d":"2021-12-05","o":49150,"h":49700,"l":47730,"c":49400,"rsi":31.6,"obv":3.11},
{"d":"2021-12-06","o":49400,"h":50880,"l":47100,"c":50530,"rsi":34.5,"obv":3.25},
{"d":"2021-12-07","o":50530,"h":51930,"l":50040,"c":50600,"rsi":35.6,"obv":3.33},
{"d":"2021-12-08","o":50600,"h":51200,"l":48620,"c":50470,"rsi":35.6,"obv":3.29},
{"d":"2021-12-09","o":50470,"h":50800,"l":47320,"c":47550,"rsi":31.3,"obv":3.22},
{"d":"2021-12-10","o":47550,"h":50100,"l":46850,"c":47140,"rsi":30,"obv":3.15},
{"d":"2021-12-11","o":47140,"h":49490,"l":46750,"c":49370,"rsi":37.6,"obv":3.18},
{"d":"2021-12-12","o":49370,"h":50800,"l":48640,"c":50100,"rsi":39.4,"obv":3.22},
{"d":"2021-12-13","o":50100,"h":50200,"l":45670,"c":46710,"rsi":33.6,"obv":3.15},
{"d":"2021-12-14","o":46710,"h":48700,"l":46300,"c":48350,"rsi":37.6,"obv":3.22},
{"d":"2021-12-15","o":48350,"h":49500,"l":46550,"c":48860,"rsi":40,"obv":3.29},
{"d":"2021-12-16","o":48860,"h":49430,"l":47520,"c":47630,"rsi":37.6,"obv":3.25},
{"d":"2021-12-17","o":47630,"h":48000,"l":45450,"c":46130,"rsi":35,"obv":3.22},
{"d":"2021-12-18","o":46130,"h":47360,"l":45550,"c":46830,"rsi":37,"obv":3.22},
{"d":"2021-12-19","o":46830,"h":48300,"l":46400,"c":46680,"rsi":37.4,"obv":3.18},
{"d":"2021-12-20","o":46680,"h":47540,"l":45560,"c":46910,"rsi":37.4,"obv":3.18},
{"d":"2021-12-21","o":46910,"h":49330,"l":46630,"c":49000,"rsi":44,"obv":3.22},
{"d":"2021-12-22","o":49000,"h":49580,"l":48420,"c":48590,"rsi":44,"obv":3.22},
{"d":"2021-12-23","o":48590,"h":51380,"l":47900,"c":50800,"rsi":50,"obv":3.25},
{"d":"2021-12-24","o":50800,"h":51810,"l":50400,"c":50830,"rsi":50.6,"obv":3.25},
{"d":"2021-12-25","o":50830,"h":51150,"l":50180,"c":50400,"rsi":50,"obv":3.25},
{"d":"2021-12-26","o":50400,"h":51280,"l":49500,"c":50800,"rsi":50.9,"obv":3.25},
{"d":"2021-12-27","o":50800,"h":52090,"l":50450,"c":50700,"rsi":50.6,"obv":3.25},
{"d":"2021-12-28","o":50700,"h":50700,"l":47300,"c":47540,"rsi":41.4,"obv":3.18},
{"d":"2021-12-29","o":47540,"h":48140,"l":46100,"c":46460,"rsi":38,"obv":3.15},
{"d":"2021-12-30","o":46460,"h":47900,"l":45900,"c":47120,"rsi":39.4,"obv":3.15},
{"d":"2021-12-31","o":47120,"h":48550,"l":45680,"c":46220,"rsi":38,"obv":3.11},
{"d":"2022-01-01","o":46220,"h":47950,"l":46200,"c":47720,"rsi":44,"obv":3.15},
{"d":"2022-01-02","o":47720,"h":47990,"l":46650,"c":47290,"rsi":43,"obv":3.11},
{"d":"2022-01-03","o":47290,"h":47570,"l":45700,"c":46460,"rsi":41.4,"obv":3.07},
{"d":"2022-01-04","o":46460,"h":47500,"l":45500,"c":45820,"rsi":38.5,"obv":3.04},
{"d":"2022-01-05","o":45820,"h":47070,"l":42500,"c":43430,"rsi":33.3,"obv":2.96},
{"d":"2022-01-06","o":43430,"h":43750,"l":42650,"c":43080,"rsi":32,"obv":2.89},
{"d":"2022-01-07","o":43080,"h":43150,"l":40800,"c":41560,"rsi":29.6,"obv":2.82},
{"d":"2022-01-08","o":41560,"h":42300,"l":40500,"c":41730,"rsi":29.3,"obv":2.75},
{"d":"2022-01-09","o":41730,"h":42790,"l":41200,"c":41860,"rsi":30.5,"obv":2.71},
{"d":"2022-01-10","o":41860,"h":42250,"l":39650,"c":41820,"rsi":30.5,"obv":2.71},
{"d":"2022-01-11","o":41820,"h":43100,"l":41270,"c":42730,"rsi":34,"obv":2.75},
{"d":"2022-01-12","o":42730,"h":44280,"l":42450,"c":43920,"rsi":41.4,"obv":2.78},
{"d":"2022-01-13","o":43920,"h":44450,"l":42300,"c":42590,"rsi":37,"obv":2.78},
{"d":"2022-01-14","o":42590,"h":43450,"l":41730,"c":43100,"rsi":39.4,"obv":2.82},
{"d":"2022-01-15","o":43100,"h":43800,"l":42600,"c":43180,"rsi":39.4,"obv":2.82},
{"d":"2022-01-16","o":43180,"h":43480,"l":42700,"c":43110,"rsi":39.4,"obv":2.82},
{"d":"2022-01-17","o":43110,"h":43200,"l":41540,"c":42250,"rsi":36.8,"obv":2.82},
{"d":"2022-01-18","o":42250,"h":42700,"l":41250,"c":42370,"rsi":37,"obv":2.82},
{"d":"2022-01-19","o":42370,"h":42570,"l":41100,"c":41660,"rsi":35,"obv":2.78},
{"d":"2022-01-20","o":41660,"h":43500,"l":40550,"c":40680,"rsi":31.3,"obv":2.71},
{"d":"2022-01-21","o":40680,"h":41100,"l":35440,"c":36450,"rsi":21.8,"obv":2.53},
{"d":"2022-01-22","o":36450,"h":36830,"l":34000,"c":35030,"rsi":19.8,"obv":2.45},
{"d":"2022-01-23","o":35030,"h":36500,"l":34600,"c":36280,"rsi":26.4,"obv":2.53},
{"d":"2022-01-24","o":36280,"h":37550,"l":32900,"c":36650,"rsi":29,"obv":2.64},
{"d":"2022-01-25","o":36650,"h":37550,"l":35700,"c":36950,"rsi":30.2,"obv":2.71},
{"d":"2022-01-26","o":36950,"h":38900,"l":36230,"c":36810,"rsi":30.2,"obv":2.67},
{"d":"2022-01-27","o":36810,"h":37230,"l":35500,"c":37160,"rsi":32,"obv":2.75},
{"d":"2022-01-28","o":37160,"h":38000,"l":36150,"c":37710,"rsi":34.8,"obv":2.78},
{"d":"2022-01-29","o":37710,"h":38720,"l":37300,"c":38170,"rsi":37.6,"obv":2.82},
{"d":"2022-01-30","o":38170,"h":38360,"l":37350,"c":37920,"rsi":37,"obv":2.82},
{"d":"2022-01-31","o":37920,"h":38740,"l":36630,"c":38480,"rsi":40,"obv":2.85},
{"d":"2022-02-01","o":38480,"h":39270,"l":38000,"c":38740,"rsi":41.7,"obv":2.89},
{"d":"2022-02-02","o":38740,"h":38850,"l":36450,"c":36950,"rsi":35.6,"obv":2.85},
{"d":"2022-02-03","o":36950,"h":37390,"l":36250,"c":37080,"rsi":37,"obv":2.89},
{"d":"2022-02-04","o":37080,"h":41700,"l":36950,"c":41570,"rsi":55.7,"obv":2.96},
{"d":"2022-02-05","o":41570,"h":41900,"l":40900,"c":41380,"rsi":55,"obv":2.96},
{"d":"2022-02-06","o":41380,"h":42650,"l":41100,"c":42410,"rsi":59,"obv":3},
{"d":"2022-02-07","o":42410,"h":44400,"l":41700,"c":43840,"rsi":62.4,"obv":3.07},
{"d":"2022-02-08","o":43840,"h":45480,"l":42700,"c":44040,"rsi":63.8,"obv":3.15},
{"d":"2022-02-09","o":44040,"h":45000,"l":43200,"c":44520,"rsi":64.6,"obv":3.25}
]
},
"vconcat":[
{"width":1186,"height":18,"view":{"fill":"#1e222d","stroke":null},
 "data":{"values":[{"d":"2021-01-20T23:00:00Z","t":"Elly101 published on TradingView.com, Feb 09, 2022 20:29 UTC"}]},
 "mark":{"type":"text","align":"left","fontSize":7.8,"color":"#d1d4dc"},
 "encoding":{"x":{"field":"d","type":"temporal","scale":{"type":"utc","domain":["2021-01-20T23:00:00Z","2022-03-05T17:00:00Z"]},"axis":null},"text":{"field":"t"}}},
{"width":1186,"height":423,
 "encoding":{"x":{"field":"d","type":"temporal","scale":{"type":"utc","domain":["2021-01-20T23:00:00Z","2022-03-05T17:00:00Z"]},"axis":null}},
 "layer":[
  {"data":{"name":"months"},"mark":{"type":"rule","color":"#a7aab3","strokeDash":[1,2]},"encoding":{}},
  {"data":{"name":"priceGrid"},"mark":{"type":"rule","color":"#a7aab3","strokeDash":[1,2]},
   "encoding":{"x2":{"field":"d2"},"y":{"field":"p","type":"quantitative","scale":{"domain":[15250,78420],"nice":false,"zero":false},"axis":null}}},
  {"data":{"values":[{"d":"2021-01-20T23:00:00Z","d2":"2022-02-18T05:00:00Z","p":44522.81}]},
   "mark":{"type":"rule","color":"#2a2e39","strokeDash":[2,3],"strokeWidth":1},
   "encoding":{"x2":{"field":"d2"},"y":{"field":"p","type":"quantitative","axis":null}}},
  {"data":{"name":"btc"},"mark":{"type":"rule","color":"#47494f","strokeWidth":1,"clip":true},
   "encoding":{"y":{"field":"l","type":"quantitative","axis":null},"y2":{"field":"h"}}},
  {"data":{"name":"btc"},"mark":{"type":"rule","strokeWidth":2.4,"clip":true},
   "encoding":{"y":{"field":"o","type":"quantitative","axis":null},"y2":{"field":"c"},
    "color":{"condition":{"test":"datum.c>=datum.o","value":"#707278"},"value":"#2b2d33"}}},
  {"data":{"values":[{"d":"2021-02-11","p":59306,"g":"a"},{"d":"2021-04-14","p":66176,"g":"a"},{"d":"2021-07-26","p":43580,"g":"b"},{"d":"2021-09-06","p":54184,"g":"b"},{"d":"2021-10-16","p":67326,"g":"c"},{"d":"2021-11-10","p":69760,"g":"c"}]},
   "mark":{"type":"line","color":"#050505","strokeWidth":2.4},
   "encoding":{"y":{"field":"p","type":"quantitative","axis":null},"detail":{"field":"g"}}},
  {"data":{"name":"col"},"mark":{"type":"rect","color":"#b2b5be"},"encoding":{"x2":{"field":"d2"}}},
  {"data":{"name":"col"},"mark":{"type":"rule","color":"#8e919a"},"encoding":{}},
  {"data":{"name":"prices"},"mark":{"type":"text","align":"left","fontSize":7.8,"color":"#50535e"},
   "encoding":{"y":{"field":"p","type":"quantitative","axis":null},"text":{"field":"t"}}},
  {"data":{"values":[{"d":"2022-02-22","d2":"2022-03-02T08:00:00Z","p":77820,"p2":76180}]},
   "mark":{"type":"rect","color":"#b2b5be","stroke":"#a0a3ac","cornerRadius":2},
   "encoding":{"x2":{"field":"d2"},"y":{"field":"p","type":"quantitative","axis":null},"y2":{"field":"p2"}}},
  {"data":{"values":[{"d":"2022-02-26","p":77000,"t":"USDT"}]},
   "mark":{"type":"text","align":"center","fontSize":7.8,"color":"#50535e"},
   "encoding":{"y":{"field":"p","type":"quantitative","axis":null},"text":{"field":"t"}}},
  {"data":{"values":[{"d":"2022-02-18T05:00:00Z","d2":"2022-03-04T17:00:00Z","p":45120,"p2":42430}]},
   "mark":{"type":"rect","color":"#3a3d47"},
   "encoding":{"x2":{"field":"d2"},"y":{"field":"p","type":"quantitative","axis":null},"y2":{"field":"p2"}}},
  {"data":{"values":[{"d":"2022-02-20T07:00:00Z","p":44522.81,"t":"44522.81"}]},
   "mark":{"type":"text","align":"left","fontSize":7.8,"fontWeight":"bold","color":"#ffffff"},
   "encoding":{"y":{"field":"p","type":"quantitative","axis":null},"text":{"field":"t"}}},
  {"data":{"values":[{"d":"2022-02-20T07:00:00Z","p":43000,"t":"03:30:46"}]},
   "mark":{"type":"text","align":"left","fontSize":7.8,"color":"#e0e3eb"},
   "encoding":{"y":{"field":"p","type":"quantitative","axis":null},"text":{"field":"t"}}},
  {"data":{"values":[{"d":"2021-01-22T17:00:00Z","p":77078,"t":"Bitcoin / TetherUS, 1D, BINANCE"}]},
   "mark":{"type":"text","align":"left","fontSize":7.8,"color":"#5d606b"},
   "encoding":{"y":{"field":"p","type":"quantitative","axis":null},"text":{"field":"t"}}},
  {"data":{"values":[{"d":"2021-03-04T17:00:00Z","p":77078,"t":"+479.82 (+1.09%)"}]},
   "mark":{"type":"text","align":"left","fontSize":7.8,"fontWeight":"bold","color":"#eceef2"},
   "encoding":{"y":{"field":"p","type":"quantitative","axis":null},"text":{"field":"t"}}}
 ]},
{"width":1186,"height":95,
 "encoding":{"x":{"field":"d","type":"temporal","scale":{"type":"utc","domain":["2021-01-20T23:00:00Z","2022-03-05T17:00:00Z"]},"axis":null}},
 "layer":[
  {"data":{"name":"months"},"mark":{"type":"rule","color":"#a7aab3","strokeDash":[1,2]},"encoding":{}},
  {"data":{"name":"rsiGrid"},"mark":{"type":"rule","color":"#a7aab3","strokeDash":[1,2]},
   "encoding":{"x2":{"field":"d2"},"y":{"field":"p","type":"quantitative","scale":{"domain":[8.9,90.8],"nice":false,"zero":false},"axis":null}}},
  {"data":{"values":[{"d":"2021-01-20T23:00:00Z","d2":"2022-02-18T05:00:00Z","p":70,"p2":30}]},
   "mark":{"type":"rect","color":"#a3a6af"},
   "encoding":{"x2":{"field":"d2"},"y":{"field":"p","type":"quantitative","axis":null},"y2":{"field":"p2"}}},
  {"data":{"values":[{"d":"2021-01-20T23:00:00Z","d2":"2022-02-18T05:00:00Z","p":70},{"d":"2021-01-20T23:00:00Z","d2":"2022-02-18T05:00:00Z","p":50},{"d":"2021-01-20T23:00:00Z","d2":"2022-02-18T05:00:00Z","p":30}]},
   "mark":{"type":"rule","color":"#7f828b","strokeDash":[4,3]},
   "encoding":{"x2":{"field":"d2"},"y":{"field":"p","type":"quantitative","axis":null}}},
  {"data":{"name":"btc"},"mark":{"type":"line","color":"#3b3d44","strokeWidth":1.1},
   "encoding":{"y":{"field":"rsi","type":"quantitative","axis":null}}},
  {"data":{"values":[{"d":"2021-02-20","p":88.5,"g":"a"},{"d":"2021-04-15","p":71.3,"g":"a"},{"d":"2021-07-27","p":80.5,"g":"b"},{"d":"2021-09-06","p":71.8,"g":"b"},{"d":"2021-10-17","p":84.5,"g":"c"},{"d":"2021-11-12","p":70.1,"g":"c"}]},
   "mark":{"type":"line","color":"#050505","strokeWidth":2.4},
   "encoding":{"y":{"field":"p","type":"quantitative","axis":null},"detail":{"field":"g"}}},
  {"data":{"name":"col"},"mark":{"type":"rect","color":"#b2b5be"},"encoding":{"x2":{"field":"d2"}}},
  {"data":{"name":"col"},"mark":{"type":"rule","color":"#8e919a"},"encoding":{}},
  {"data":{"name":"rsiTicks"},"mark":{"type":"text","align":"left","fontSize":7.8,"color":"#50535e"},
   "encoding":{"y":{"field":"p","type":"quantitative","axis":null},"text":{"field":"t"}}}
 ]},
{"width":1186,"height":18,
 "encoding":{"x":{"field":"d","type":"temporal","scale":{"type":"utc","domain":["2021-01-20T23:00:00Z","2022-03-05T17:00:00Z"]},"axis":null}},
 "layer":[
  {"data":{"name":"months"},"mark":{"type":"rule","color":"#a7aab3","strokeDash":[1,2]},"encoding":{}},
  {"data":{"name":"btc"},"mark":{"type":"line","color":"#3b3d44","strokeWidth":1.1,"clip":true},
   "encoding":{"y":{"field":"obv","type":"quantitative","scale":{"domain":[2.2,4.2],"nice":false,"zero":false},"axis":null}}},
  {"data":{"name":"col"},"mark":{"type":"rect","color":"#b2b5be"},"encoding":{"x2":{"field":"d2"}}},
  {"data":{"name":"col"},"mark":{"type":"rule","color":"#8e919a"},"encoding":{}},
  {"data":{"values":[{"d":"2022-02-20T07:00:00Z","p":3.85,"t":"4M"}]},"mark":{"type":"text","align":"left","fontSize":7.8,"color":"#50535e"},
   "encoding":{"y":{"field":"p","type":"quantitative","axis":null},"text":{"field":"t"}}}
 ]},
{"width":1186,"height":17,
 "encoding":{"x":{"field":"d","type":"temporal","scale":{"type":"utc","domain":["2021-01-20T23:00:00Z","2022-03-05T17:00:00Z"]},"axis":null}},
 "layer":[
  {"data":{"name":"months"},"transform":[{"filter":"datum.t!='2022'"}],"mark":{"type":"text","align":"center","fontSize":7.8,"color":"#50535e"},"encoding":{"text":{"field":"t"}}},
  {"data":{"name":"months"},"transform":[{"filter":"datum.t=='2022'"}],"mark":{"type":"text","align":"center","fontSize":8.4,"fontWeight":"bold","color":"#50535e"},"encoding":{"text":{"field":"t"}}},
  {"data":{"name":"col"},"mark":{"type":"rule","color":"#8e919a"},"encoding":{}}
 ]},
{"width":1186,"height":24,"view":{"fill":"#1e222d","stroke":null},
 "encoding":{"x":{"field":"d","type":"temporal","scale":{"type":"utc","domain":["2021-01-20T23:00:00Z","2022-03-05T17:00:00Z"]},"axis":null}},
 "layer":[
  {"data":{"values":[{"d":"2021-01-23"}]},
   "mark":{"type":"point","filled":true,"opacity":1,"size":144,"color":"#e8eaf0","shape":"M-1,-0.5H-0.22V0.5H-0.61V-0.11H-1ZM0.56,0.5H0.11L0.53,-0.5H0.97ZM-0.11,-0.33A0.22,0.22 0 1 1 0.33,-0.33A0.22,0.22 0 1 1 -0.11,-0.33Z"},"encoding":{}},
  {"data":{"values":[{"d":"2021-01-26T03:00:00Z","t":"TradingView"}]},
   "mark":{"type":"text","align":"left","fontSize":8.3,"color":"#e8eaf0"},"encoding":{"text":{"field":"t"}}}
 ]}
]
}
